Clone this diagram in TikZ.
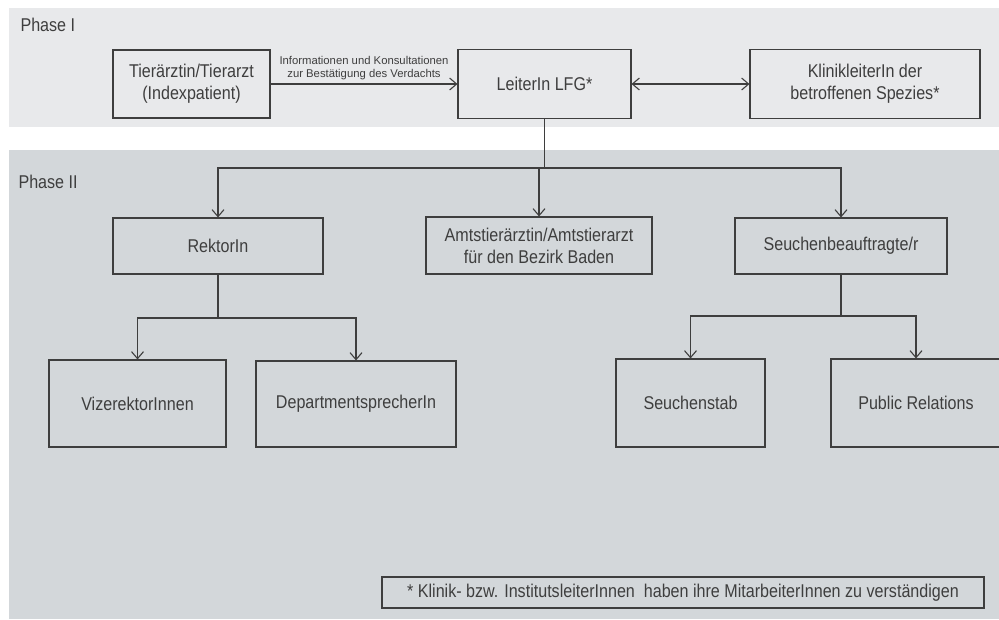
\documentclass[tikz,border=0pt]{standalone}
\usepackage{fontspec}
\setmainfont{Liberation Sans}[FakeStretch=0.87]
\newfontfamily\labelfont{Liberation Sans}
\usetikzlibrary{arrows.meta}

\definecolor{phaseone}{RGB}{232,233,235}
\definecolor{phasetwo}{RGB}{211,215,218}
\definecolor{linegray}{RGB}{62,62,62}

\begin{document}
\begin{tikzpicture}[x=1pt,y=-1pt,>={Straight Barb[length=7pt,width=12pt]},
		color=linegray,line width=1.1pt,
		main node/.style={rectangle,draw,align=center,inner sep=0pt,
			font=\fontsize{18.5}{22}\selectfont},
		phase node/.style={anchor=west,inner sep=0pt,font=\fontsize{18.5}{22}\selectfont}]
	\useasboundingbox (0,0) rectangle (999,619);
	%
	% Background bands of the two phases.
	\fill[phaseone] (9,8) rectangle (999,127);
	\fill[phasetwo] (9,150) rectangle (999,619);
	\node[phase node] (p1) at (20,25) {Phase I};
	\node[phase node] (p2) at (18,182) {Phase II};
	%
	% Phase I.
	\node[main node,minimum width=157pt,minimum height=68pt] (0) at (191.5,84) {Tierärztin/Tierarzt\\(Indexpatient)};
	\node[main node,minimum width=173pt,minimum height=69pt] (1) [right of=0,node distance=353pt] {LeiterIn LFG*};
	\node[main node,minimum width=230pt,minimum height=69pt] (2) [right of=1,node distance=320.5pt] {KlinikleiterIn der\\betroffenen Spezies*};
	%
	% Phase II.
	\node[main node,minimum width=210pt,minimum height=56pt] (3) at (218,246) {RektorIn};
	\node[main node,minimum width=226pt,minimum height=57pt] (4) at (539,245.5) {Amtstierärztin/Amtstierarzt\\für den Bezirk Baden};
	\node[main node,minimum width=212pt,minimum height=56pt] (5) at (841,246) {Seuchenbeauftragte/r};
	\node[main node,minimum width=177pt,minimum height=87pt] (6) at (137.5,403.5) {VizerektorInnen};
	\node[main node,minimum width=200pt,minimum height=86pt] (7) at (356,404) {DepartmentsprecherIn};
	\node[main node,minimum width=149pt,minimum height=88pt] (8) at (690.5,403) {Seuchenstab};
	\node[main node,minimum width=170pt,minimum height=88pt] (9) at (916,403) {Public Relations};
	\node[main node,minimum width=602pt,minimum height=31pt] (10) at (683,592.5) {* Klinik- bzw. InstitutsleiterInnen\ \ haben ihre MitarbeiterInnen zu verständigen};
	%
	% Arrows in phase I.
	\path[->]
		(0) edge node[above,inner sep=4pt,align=center,font=\labelfont\fontsize{11.3}{13}\selectfont]
			{Informationen und Konsultationen\\zur Bestätigung des Verdachts} (1)
		(1) edge [<->] (2);
	%
	% LeiterIn LFG to phase II.
	\coordinate (a) at (544.5,168);
	\draw (1) -- (a);
	\draw[->] (a) -| (3);
	\draw[->] (a) -| (5);
	\draw[->] (4 |- a) -- (4);
	%
	% RektorIn.
	\coordinate (b) at (218,318);
	\draw (3) -- (b);
	\draw[->] (b) -| (6);
	\draw[->] (b) -| (7);
	%
	% Seuchenbeauftragte/r.
	\coordinate (c) at (841,316);
	\draw (5) -- (c);
	\draw[->] (c) -| (8);
	\draw[->] (c) -| (9);
\end{tikzpicture}
\end{document}
